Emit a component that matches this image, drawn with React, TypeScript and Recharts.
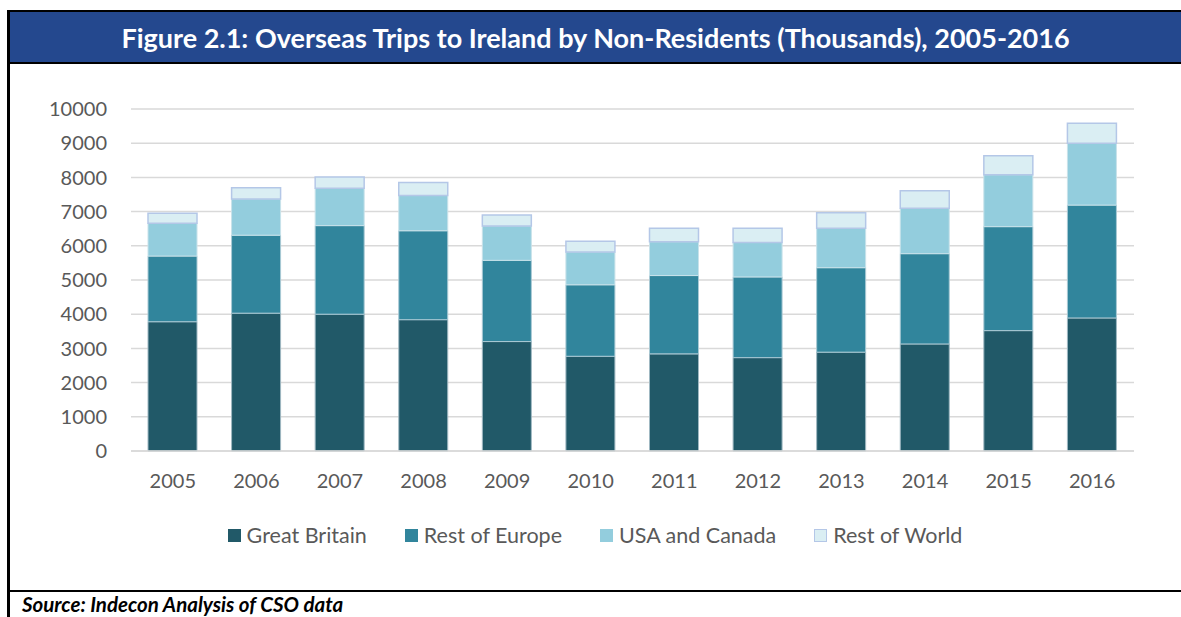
import { Bar, BarChart, CartesianGrid, Legend, XAxis, YAxis } from 'recharts';

const years = ['2005', '2006', '2007', '2008', '2009', '2010', '2011', '2012', '2013', '2014', '2015', '2016'];
const greatBritain = [3780, 4030, 4000, 3840, 3200, 2770, 2840, 2730, 2890, 3130, 3520, 3890];
const restOfEurope = [1920, 2280, 2590, 2600, 2375, 2090, 2290, 2360, 2470, 2640, 3040, 3300];
const usaCanada = [960, 1060, 1090, 1030, 1005, 960, 990, 1010, 1150, 1330, 1520, 1810];
const restOfWorld = [290, 330, 330, 380, 320, 310, 390, 410, 460, 510, 555, 580];
const yTicks = [0, 1000, 2000, 3000, 4000, 5000, 6000, 7000, 8000, 9000, 10000];

const series = [
  { key: 'gb', name: 'Great Britain', fill: '#215968', stroke: '#9FB8C2' },
  { key: 'eu', name: 'Rest of Europe', fill: '#31859C', stroke: '#A9C9D4' },
  { key: 'us', name: 'USA and Canada', fill: '#93CDDD', stroke: '#C8E2EA' },
  { key: 'row', name: 'Rest of World', fill: '#DAEEF3', stroke: '#B4C7E7' },
];

const chartData = years.map((year, i) => ({
  year,
  gb: greatBritain[i],
  eu: restOfEurope[i],
  us: usaCanada[i],
  row: restOfWorld[i],
}));

const font = 'Lato, "Open Sans", sans-serif';
const tickStyle = { fontSize: 20, fill: '#595959', fontFamily: font };

function LegendContent() {
  return (
    <div style={{ display: 'flex', justifyContent: 'center', alignItems: 'center', height: 30, fontFamily: font, fontSize: 21.5, color: '#595959', paddingLeft: 47 }}>
      {series.map((s) => (
        <div key={s.key} style={{ display: 'flex', alignItems: 'center', marginRight: 38 }}>
          <span
            style={{
              display: 'inline-block',
              width: 13,
              height: 13,
              backgroundColor: s.fill,
              border: s.key === 'row' ? `1.5px solid ${s.stroke}` : 'none',
              boxSizing: 'border-box',
              marginRight: 6,
            }}
          />
          <span>{s.name}</span>
        </div>
      ))}
    </div>
  );
}

export default function App() {
  const line = '#000000';
  return (
    <div style={{ position: 'absolute', left: 0, top: 0, width: 1181, height: 617, backgroundColor: '#FFFFFF', overflow: 'hidden' }}>
      <div style={{ position: 'absolute', left: 7, top: 10, width: 1174, height: 2, backgroundColor: line }} />
      <div style={{ position: 'absolute', left: 7, top: 10, width: 3, height: 607, backgroundColor: line }} />
      <div
        style={{
          position: 'absolute',
          left: 10,
          top: 12,
          width: 1171,
          height: 50,
          backgroundColor: '#24488E',
          color: '#FFFFFF',
          fontFamily: font,
          fontWeight: 700,
          fontSize: 27,
          display: 'flex',
          alignItems: 'center',
          justifyContent: 'center',
        }}
      >
        Figure 2.1: Overseas Trips to Ireland by Non-Residents (Thousands), 2005-2016
      </div>
      <div style={{ position: 'absolute', left: 7, top: 62, width: 1174, height: 2, backgroundColor: line }} />
      <div style={{ position: 'absolute', left: 7, top: 590, width: 1174, height: 2, backgroundColor: line }} />
      <div
        style={{
          position: 'absolute',
          left: 22,
          top: 592,
          fontFamily: font,
          fontWeight: 700,
          fontStyle: 'italic',
          fontSize: 20.5,
          color: '#000000',
        }}
      >
        Source: Indecon Analysis of CSO data
      </div>

      <div style={{ position: 'absolute', left: 0, top: 64 }}>
        <BarChart width={1181} height={526} data={chartData} margin={{ top: 45, right: 47, left: 0, bottom: 69 }} barSize={49}>
          <CartesianGrid stroke="#D9D9D9" strokeWidth={1.5} vertical={false} />
          <XAxis
            dataKey="year"
            tick={tickStyle}
            tickLine={false}
            tickSize={0}
            tickMargin={23}
            height={40}
            axisLine={{ stroke: '#D9D9D9', strokeWidth: 1.5 }}
          />
          <YAxis
            width={131}
            domain={[0, 10000]}
            ticks={yTicks}
            tick={tickStyle}
            tickLine={false}
            tickSize={0}
            tickMargin={24}
            axisLine={false}
            interval={0}
          />
          <Legend verticalAlign="bottom" content={<LegendContent />} wrapperStyle={{ top: 456, left: 0, width: 1181 }} />
          {series.map((s) => (
            <Bar
              key={s.key}
              dataKey={s.key}
              name={s.name}
              stackId="a"
              fill={s.fill}
              stroke={s.stroke}
              strokeWidth={s.key === 'row' ? 1.5 : 1}
              isAnimationActive={false}
            />
          ))}
        </BarChart>
      </div>
    </div>
  );
}
